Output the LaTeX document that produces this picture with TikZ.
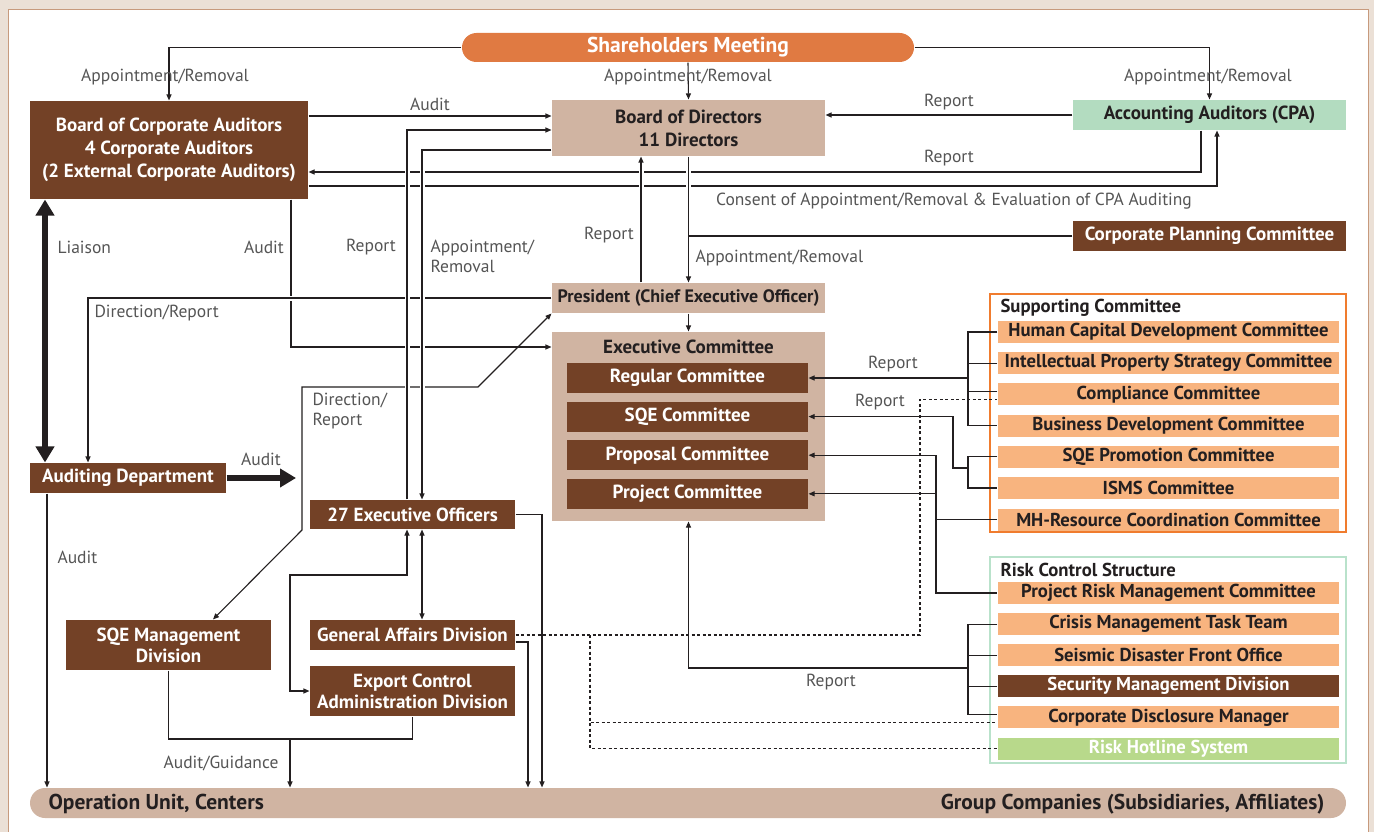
\documentclass[tikz,border=0pt]{standalone}
\usepackage{fontspec}
\setmainfont{PT Sans}
\usetikzlibrary{positioning,arrows.meta}
\definecolor{pagebeige}{HTML}{EBE0D6}
\definecolor{panelline}{HTML}{C79A7D}
\definecolor{meetingorange}{HTML}{E07A42}
\definecolor{darkbrown}{HTML}{734126}
\definecolor{tan}{HTML}{D0B4A2}
\definecolor{cpagreen}{HTML}{B3DCC0}
\definecolor{lightorange}{HTML}{F8B47F}
\definecolor{supframe}{HTML}{F07C2E}
\definecolor{riskframe}{HTML}{B9E2CB}
\definecolor{hotgreen}{HTML}{B8D98B}
\definecolor{ink}{HTML}{231F20}
\definecolor{labelgray}{HTML}{555555}
\tikzset{smalltip/.tip={Triangle[length=6pt,width=5pt]},
  bigtip/.tip={Triangle[length=16pt,width=18pt]}}

\begin{document}
\begin{tikzpicture}[x=1pt,y=-1pt,line width=1.1pt,color=ink,
  font=\fontsize{17.5}{20}\selectfont,
  base/.style={inner sep=0pt,align=center,font=\bfseries\fontsize{19}{23}\selectfont},
  dbox/.style={base,fill=darkbrown,text=white},
  tbox/.style={base,fill=tan,text=ink},
  item/.style={base,fill=lightorange,text=ink,minimum width=341pt,minimum height=22pt,
    font=\bfseries\fontsize{18.7}{20}\selectfont},
  lbl/.style={inner sep=0pt,text=labelgray,align=left},
  arr/.style={-smalltip},
  dbl/.style={smalltip-smalltip},
  hop/.style={preaction={draw=white,line width=5pt,-}},
  fat/.style={line width=6pt}]
  \useasboundingbox (0,0) rectangle (1374,832);
  \fill[pagebeige] (0,0) rectangle (1374,832);
  \draw[panelline,fill=white,line width=1pt] (8,10) rectangle (1368,850);

  % top row
  \node[base,fill=meetingorange,text=white,minimum width=452pt,minimum height=29pt,
    rounded corners=14.5pt,font=\bfseries\fontsize{21.5}{24}\selectfont] (sh) at (688,47.5) {Shareholders Meeting};
  \node[dbox,minimum width=278pt,minimum height=98pt] (bca) at (169,150)
    {Board of Corporate Auditors\\4 Corporate Auditors\\(2 External Corporate Auditors)};
  \node[tbox,minimum width=273pt,minimum height=56pt] (bod) at (688.5,128) {Board of Directors\\11 Directors};
  \node[base,fill=cpagreen,text=ink,minimum width=273pt,minimum height=30pt] (cpa) at (1209.5,115) {Accounting Auditors (CPA)};
  \node[dbox,minimum width=273pt,minimum height=30pt] (cpc) at (1209.5,236) {Corporate Planning Committee};

  % middle
  \node[tbox,minimum width=273pt,minimum height=30pt,font=\bfseries\fontsize{18}{20}\selectfont] (pres) at (688.5,298) {President (Chief Executive Officer)};
  \node[tbox,minimum width=273pt,minimum height=189pt] (exc) at (688.5,426.5) {};
  \node[base,text=ink] (exct) at (688.5,347) {Executive Committee};
  \node[dbox,minimum width=241pt,minimum height=30pt] (reg) at (687.5,378) {Regular Committee};
  \node[dbox,minimum width=241pt,minimum height=30pt,below=7.5pt of reg] (sqe) {SQE Committee};
  \node[dbox,minimum width=241pt,minimum height=30pt,below=7.5pt of sqe] (prop) {Proposal Committee};
  \node[dbox,minimum width=241pt,minimum height=30pt,below=7.5pt of prop] (proj) {Project Committee};

  \node[dbox,minimum width=196pt,minimum height=30pt] (aud) at (128,478) {Auditing Department};
  \node[dbox,minimum width=205pt,minimum height=29pt] (eo) at (412.5,514.5) {27 Executive Officers};
  \node[dbox,minimum width=205pt,minimum height=30pt] (ga) at (412.5,635) {General Affairs Division};
  \node[dbox,minimum width=205pt,minimum height=50pt,font=\bfseries\fontsize{19}{21}\selectfont] (ec) at (412.5,691) {Export Control\\Administration Division};
  \node[dbox,minimum width=205pt,minimum height=50pt,font=\bfseries\fontsize{19}{21}\selectfont] (sqm) at (168.5,645) {SQE Management\\Division};

  % bottom bar
  \node[tbox,minimum width=1316pt,minimum height=30pt,rounded corners=15pt] (ops) at (688,803) {};
  \node[base,text=ink,anchor=west,font=\bfseries\fontsize{21.5}{24}\selectfont] (opsl) at (48,804) {Operation Unit, Centers};
  \node[base,text=ink,anchor=east,font=\bfseries\fontsize{21.5}{24}\selectfont] (opsr) at (1325,804) {Group Companies (Subsidiaries, Affiliates)};

  % supporting committee
  \node[draw=supframe,line width=1.2pt,minimum width=356pt,minimum height=238pt,inner sep=0pt] (supbox) at (1168,413) {};
  \node[base,text=ink,anchor=west,font=\bfseries\fontsize{18.7}{20}\selectfont] (supt) at (1000,308) {Supporting Committee};
  \node[item] (hcd) at (1168.5,332) {Human Capital Development Committee};
  \node[item,below=8pt of hcd] (ips) {Intellectual Property Strategy Committee};
  \node[item,below=8pt of ips] (comp) {Compliance Committee};
  \node[item,below=8.5pt of comp] (bdc) {Business Development Committee};
  \node[item,below=8pt of bdc] (sqp) {SQE Promotion Committee};
  \node[item,below=8pt of sqp] (isms) {ISMS Committee};
  \node[item,below=8.5pt of isms] (mh) {MH-Resource Coordination Committee};

  % risk control structure
  \node[draw=riskframe,line width=1.2pt,minimum width=356pt,minimum height=206pt,inner sep=0pt] (riskbox) at (1168,660) {};
  \node[base,text=ink,anchor=west,font=\bfseries\fontsize{18.7}{20}\selectfont] (riskt) at (1000,570) {Risk Control Structure};
  \node[item] (prm) at (1168.5,593) {Project Risk Management Committee};
  \node[item,below=8pt of prm] (cmt) {Crisis Management Task Team};
  \node[item,below=8pt of cmt] (sdf) {Seismic Disaster Front Office};
  \node[item,below=8pt of sdf,fill=darkbrown,text=white] (smd) {Security Management Division};
  \node[item,below=8pt of smd] (cdm) {Corporate Disclosure Manager};
  \node[item,below=8pt of cdm,fill=hotgreen,text=white] (hot) {Risk Hotline System};

  \coordinate (audtip) at (296,478);
  \coordinate (ecbend) at (290,575);
  \coordinate (guide) at (290,739);
  \coordinate (sqj) at (968,468);
  \coordinate (rj) at (968,668);

  % shareholders
  \draw[arr] (sh.west) -| (bca.north);
  \draw[arr] (sh.east) -| (cpa.north);
  \draw[arr] (sh.south) -- (bod.north);
  \node[lbl] (l1) at (165,77) {Appointment/Removal};
  \node[lbl] (l2) at (688,77) {Appointment/Removal};
  \node[lbl] (l3) at (1208,77) {Appointment/Removal};

  % auditors and CPA
  \draw[arr] (bca.east |- 0,116) -- node[lbl,above=5pt] (l4) {Audit} (bod.west |- 0,116);
  \draw[arr] (cpa.west) -- (bod.east |- cpa.west);
  \node[lbl] (l5) at (949,102) {Report};
  \draw[arr] (cpa.south -| 1201,0) |- (bca.east |- 0,172);
  \node[lbl] (l6) at (949,158) {Report};
  \draw[arr] (bca.east |- 0,186) -| (cpa.south -| 1217,0);
  \node[lbl] (l7) at (954,201) {Consent of Appointment/Removal \& Evaluation of CPA Auditing};

  \draw[arr] (bca.south -| 291,0) |- (exc.west |- 0,347);
  \node[lbl] (l8) at (264,247) {Audit};
  \draw[arr,hop] (pres.west) -| (aud.north -| 88,0);
  \node[lbl,anchor=west] (l9) at (94,313) {Direction/Report};
  \draw[dbl] (pres.south west) -- (478,387) -- (302,387) -- (302,530) -- (sqm.north -| 213,0);
  \node[lbl,anchor=west] (l10) at (312,411) {Direction/\\Report};

  % officers up and down
  \draw[arr,hop] (eo.north -| 407,0) |- (bod.west |- 0,130);
  \node[lbl] (l11) at (371,247) {Report};
  \draw[arr,hop] (bod.west |- 0,150) -| (eo.north -| 422,0);
  \node[lbl,anchor=west] (l12) at (430,256) {Appointment/\\Removal};
  \draw[arr,hop] (pres.north -| 641,0) -- (bod.south -| 641,0);
  \node[lbl] (l13) at (609,235) {Report};
  \draw[arr,hop] (bod.south) -- (pres.north);
  \node[lbl,anchor=west] (l14) at (695,258) {Appointment/Removal};
  \draw (cpc.west) -- (bod.south |- cpc.west);
  \draw[arr] (pres.south) -- (exc.north);

  % auditing department
  \draw[fat,bigtip-bigtip] (bca.south -| 45,0) -- (aud.north -| 45,0);
  \node[lbl,anchor=west] (l15) at (57,247) {Liaison};
  \draw[fat,-bigtip] (aud.east) -- (audtip);
  \node[lbl] (l16) at (261,459) {Audit};
  \draw[arr] (aud.south -| 47,0) -- (ops.north -| 47,0);
  \node[lbl,anchor=west] (l17) at (57,557) {Audit};

  % divisions
  \draw[arr] (eo.east) -| (ops.north -| 542,0);
  \draw[arr] (ga.east |- 0,642) -| (ops.north -| 528,0);
  \draw[dbl] (ec.west) -| (ecbend) -| (eo.south -| 407,0);
  \draw[dbl] (eo.south -| 422,0) -- (ga.north -| 422,0);
  \draw (sqm.south) |- (ec.south |- guide) -- (ec.south);
  \draw[arr] (guide) -- (guide |- ops.north);
  \node[lbl] (l18) at (221,763) {Audit/Guidance};

  % dashed links
  \draw[dash pattern=on 3pt off 2.5pt] (ga.east) -| ([yshift=-5pt]comp.west -| 920,0) -- ([yshift=-5pt]comp.west);
  \draw[dash pattern=on 3pt off 2.5pt] (ga.east -| 590,0) |- (hot.west);
  \draw[dash pattern=on 3pt off 2.5pt] (ga.east -| 590,0) |- ([yshift=-5pt]cdm.west);

  % supporting committee links
  \draw (hcd.west) -| (bdc.west -| 968,0) -- (bdc.west);
  \draw (ips.west) -- (ips.west -| 968,0);
  \draw ([yshift=3pt]comp.west) -- ([yshift=3pt]comp.west -| 968,0);
  \draw[arr] (reg.east -| 968,0) -- (reg.east);
  \node[lbl] (l19) at (893,364) {Report};
  \draw (sqp.west) -| (isms.west -| 968,0) -- (isms.west);
  \draw[arr] (sqj) -| (sqe.east -| 953,0) -- (sqe.east);
  \node[lbl] (l20) at (880,402) {Report};
  \draw (prop.east -| 936,0) |- (prm.west);
  \draw[arr] (prop.east -| 936,0) -- (prop.east);
  \draw[arr] (proj.east -| 936,0) -- (proj.east);
  \draw (mh.west) -- (mh.west -| 936,0);

  % risk control links
  \draw (cmt.west) -| ([yshift=3pt]cdm.west -| 968,0) -- ([yshift=3pt]cdm.west);
  \draw (sdf.west) -- (sdf.west -| 968,0);
  \draw (smd.west) -- (smd.west -| 968,0);
  \draw[arr] (rj) -| (exc.south);
  \node[lbl] (l21) at (831,682) {Report};
\end{tikzpicture}
\end{document}
